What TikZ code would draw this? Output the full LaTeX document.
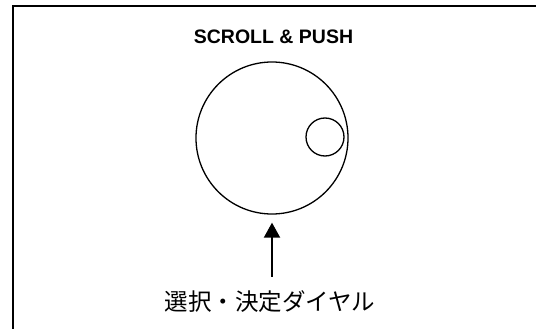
\documentclass[tikz,border=0pt]{standalone}
\usepackage{fontspec}
\setmainfont{Liberation Sans}
\newfontfamily\jpfont{Noto Sans CJK JP}
\usetikzlibrary{arrows.meta}
\begin{document}
\begin{tikzpicture}[x=1pt, y=-1pt, >={Triangle[width=16pt,length=15pt]}]
    \useasboundingbox (0,0) rectangle (536,329);
    \draw [line width=2pt] (12.5,329)--(12.5,6.5)--(536,6.5);
    \node (title) at (273.5,37) {\fontsize{19.5}{19.5}\selectfont\bfseries SCROLL \& PUSH};
    \node [draw, circle, line width=1.3pt, minimum size=152pt, inner sep=0pt] (dial) at (272,138) {};
    \node [draw, circle, line width=1.3pt, minimum size=38pt, inner sep=0pt] (knob) at (325,137) {};
    \node (label) at (270,302) {\jpfont\fontsize{23.5}{23.5}\selectfont 選択・決定ダイヤル};
    \draw [->, line width=2pt, shorten <=11pt, shorten >=8pt] (label.north -| dial.south) -- (dial.south);
\end{tikzpicture}
\end{document}
